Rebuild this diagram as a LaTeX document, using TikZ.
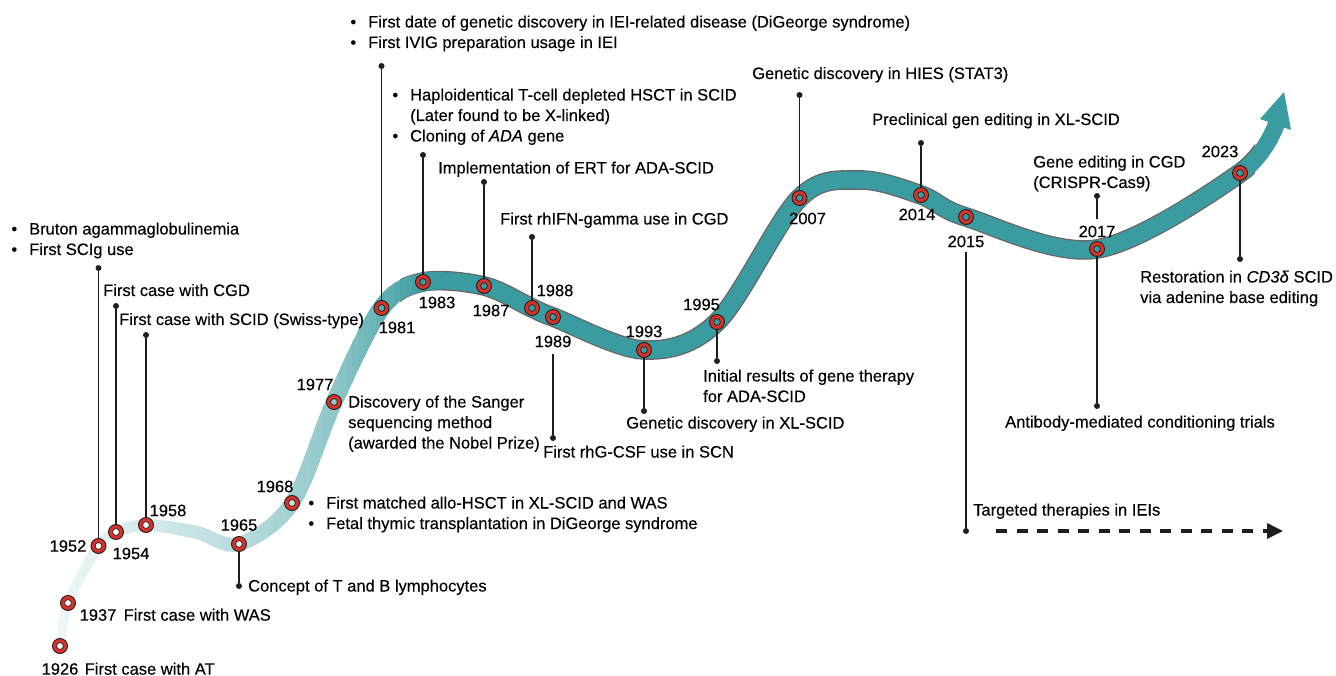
\documentclass[tikz,border=0pt]{standalone}
\usepackage{fontspec}
\setmainfont{Liberation Sans}[FakeBold=0.25]
\usepackage{xcolor}
\usetikzlibrary{positioning,arrows.meta,calc}

\definecolor{trackteal}{RGB}{58,156,160}
\definecolor{ringred}{RGB}{215,50,42}
\definecolor{inkblack}{RGB}{30,30,30}

\newcommand{\itemlist}[1]{\begin{tabular}[t]{@{}l@{\hspace{12pt}}l@{}}#1\end{tabular}}
\newcommand{\textlines}[1]{\begin{tabular}[t]{@{}l@{}}#1\end{tabular}}
\newcommand{\trackpath}{plot[smooth, tension=0.55] coordinates {(60,650) (68,603) (98.5,546) (116,532) (146,525) (195,532) (239,544) (292,503) (334,402) (381.5,308) (423,282) (484,286) (532,308) (553,317) (644,350) (717,322) (799.5,198) (860,180) (921,195) (966,217) (1097,249) (1240,173) (1277,122)}}

\begin{document}
\begin{tikzpicture}[
        x=1pt, y=-1pt,
        marker/.style={circle, draw=inkblack, line width=0.9pt, fill=ringred,
                       minimum size=15pt, inner sep=0pt,
                       path picture={\draw[inkblack, line width=0.7pt, fill=#1]
                           (path picture bounding box.center) circle (3.4pt);}},
        marker/.default=trackteal,
        year/.style={inner sep=0pt, font=\fontsize{16.5}{20.5}\selectfont},
        desc/.style={inner sep=0pt, font=\fontsize{16.5}{20.5}\selectfont},
        leaddot/.style={circle, fill=inkblack, inner sep=0pt, minimum size=6pt},
        leader/.style={line width=1.5pt, draw=inkblack}
    ]
    \useasboundingbox (0,0) rectangle (1336,676);
    \fill[white] (0,0) rectangle (1336,676);

    % ribbon: dark edge, pale-to-teal bands, teal part and its head
    \begin{scope}
        \clip (400,0) rectangle (1255,676);
        \draw[line width=19.6pt, black!60] \trackpath;
    \end{scope}
    \foreach \bx in {40,46,...,430} {
        \pgfmathsetmacro{\mixp}{\bx<240 ? 6+30*(\bx-40)/200 : (\bx<334 ? 36+22*(\bx-240)/94 : min(100,58+42*(\bx-334)/90))}
        \pgfmathsetmacro{\trackw}{9+9*min(1,(\bx-40)/340)}
        \begin{scope}
            \clip (\bx,0) rectangle (\bx+7,676);
            \draw[line width=\trackw pt, trackteal!\mixp!white] \trackpath;
        \end{scope}
    }
    \begin{scope}
        \clip (434,0) rectangle (1336,676);
        \draw[line width=17pt, trackteal] \trackpath;
    \end{scope}
    \coordinate (headtip) at (1284,92);
    \coordinate (headl) at (1260,119);
    \coordinate (headr) at (1291,130);
    \fill[trackteal] (headtip) -- (headl) -- (headr) -- cycle;

    % markers
    \node[marker=white] (m1926) at (60,646) {};
    \node[marker=white] (m1937) at (68,603) {};
    \node[marker=white] (m1952) at (98.5,546) {};
    \node[marker=white] (m1954) at (116,532) {};
    \node[marker=white] (m1958) at (146,525) {};
    \node[marker=trackteal!15!white] (m1965) at (239,544) {};
    \node[marker=trackteal!30!white] (m1968) at (292,503) {};
    \node[marker=trackteal!55!white] (m1977) at (334,402) {};
    \node[marker=trackteal!85!white] (m1981) at (381.5,308) {};
    \node[marker] (m1983) at (423,282) {};
    \node[marker] (m1987) at (484,286) {};
    \node[marker] (m1988) at (532,308) {};
    \node[marker] (m1989) at (553,317) {};
    \node[marker] (m1993) at (644,350) {};
    \node[marker] (m1995) at (717,322) {};
    \node[marker] (m2007) at (799.5,198) {};
    \node[marker] (m2014) at (921,195) {};
    \node[marker] (m2015) at (966,217) {};
    \node[marker] (m2017) at (1097,249) {};
    \node[marker] (m2023) at (1240,173) {};

    % years
    \node[year, below=9pt of m1926] (y1926) {1926};
    \node[year, right=3.5pt of m1937, yshift=-12pt] (y1937) {1937};
    \node[year, left=4pt of m1952] (y1952) {1952};
    \node[year, below=7.5pt of m1954, xshift=15pt] (y1954) {1954};
    \node[year, above=0.5pt of m1958, xshift=22pt] (y1958) {1958};
    \node[year, above=5pt of m1965] (y1965) {1965};
    \node[year, above=2.5pt of m1968, xshift=-17pt] (y1968) {1968};
    \node[year, above=3.5pt of m1977, xshift=-19pt] (y1977) {1977};
    \node[year, below=5.5pt of m1981, xshift=15.5pt] (y1981) {1981};
    \node[year, below=6.5pt of m1983, xshift=14pt] (y1983) {1983};
    \node[year, below=10.5pt of m1987, xshift=7pt] (y1987) {1987};
    \node[year, above=3.5pt of m1988, xshift=23pt] (y1988) {1988};
    \node[year, below=10.5pt of m1989] (y1989) {1989};
    \node[year, above=4.5pt of m1993] (y1993) {1993};
    \node[year, above=3.5pt of m1995, xshift=-15.5pt] (y1995) {1995};
    \node[year, below=6.5pt of m2007, xshift=8pt] (y2007) {2007};
    \node[year, below=5.5pt of m2014, xshift=-4pt] (y2014) {2014};
    \node[year, below=10.5pt of m2015] (y2015) {2015};
    \node[year, above=3.5pt of m2017] (y2017) {2017};
    \node[year, above=7.5pt of m2023, xshift=-20pt] (y2023) {2023};

    % leader dots
    \node[leaddot] (d1952) at (98.5,268) {};
    \node[leaddot] (d1954) at (116,306) {};
    \node[leaddot] (d1958) at (146,335) {};
    \node[leaddot] (d1965) at (239,586) {};
    \node[leaddot] (d1981) at (381.5,66) {};
    \node[leaddot] (d1983) at (423,155) {};
    \node[leaddot] (d1987) at (484,182) {};
    \node[leaddot] (d1988) at (532,237) {};
    \node[leaddot] (d1989) at (553,438) {};
    \node[leaddot] (d1993) at (644,411) {};
    \node[leaddot] (d1995) at (717,361) {};
    \node[leaddot] (d2007) at (799.5,95) {};
    \node[leaddot] (d2014) at (921,143) {};
    \node[leaddot] (d2015) at (966,531) {};
    \node[leaddot] (d2017a) at (1097,196) {};
    \node[leaddot] (d2017b) at (1097,406) {};
    \node[leaddot] (d2023) at (1240,259) {};

    % leaders
    \draw[leader] (m1952) -- (d1952);
    \draw[leader] (m1954) -- (d1954);
    \draw[leader] (m1958) -- (d1958);
    \draw[leader] (m1965) -- (d1965);
    \draw[leader] (m1981) -- (d1981);
    \draw[leader] (m1983) -- (d1983);
    \draw[leader] (m1987) -- (d1987);
    \draw[leader] (m1988) -- (d1988);
    \draw[leader, shorten <=6pt] (y1989) -- (d1989);
    \draw[leader] (m1993) -- (d1993);
    \draw[leader] (m1995) -- (d1995);
    \draw[leader] (m2007) -- (d2007);
    \draw[leader] (m2014) -- (d2014);
    \draw[leader, shorten <=4pt] (y2015) -- (d2015);
    \draw[leader, shorten <=6pt] (y2017) -- (d2017a);
    \draw[leader] (m2017) -- (d2017b);
    \draw[leader] (m2023) -- (d2023);

    % descriptions
    \node[desc, base right=6pt of y1926] (t1926) {First case with AT};
    \node[desc, base right=7pt of y1937] (t1937) {First case with WAS};
    \node[desc, anchor=base west] (t1952) at (11.2,234.5)
        {\itemlist{\textbullet & Bruton agammaglobulinemia\\ \textbullet & First SCIg use}};
    \node[desc, anchor=base west] (t1954) at (103,296) {First case with CGD};
    \node[desc, anchor=base west] (t1958) at (119,325) {First case with SCID (Swiss-type)};
    \node[desc, anchor=base west] (t1965) at (248,591.5) {Concept of T and B lymphocytes};
    \node[desc, anchor=base west] (t1968) at (308.2,508.5)
        {\itemlist{\textbullet & First matched allo-HSCT in XL-SCID and WAS\\
                   \textbullet & Fetal thymic transplantation in DiGeorge syndrome}};
    \node[desc, anchor=base west] (t1977) at (348,407.5)
        {\textlines{Discovery of the Sanger\\ sequencing method\\ (awarded the Nobel Prize)}};
    \node[desc, anchor=base west] (t1981) at (350.2,27.5)
        {\itemlist{\textbullet & First date of genetic discovery in IEI-related disease (DiGeorge syndrome)\\
                   \textbullet & First IVIG preparation usage in IEI}};
    \node[desc, anchor=base west] (t1983) at (392.2,100.5)
        {\itemlist{\textbullet & Haploidentical T-cell depleted HSCT in SCID\\
                   & (Later found to be X-linked)\\
                   \textbullet & Cloning of \textit{ADA} gene}};
    \node[desc, anchor=base west] (t1987) at (438,173.5) {Implementation of ERT for ADA-SCID};
    \node[desc, anchor=base west] (t1988) at (500,224.5) {First rhIFN-gamma use in CGD};
    \node[desc, anchor=base west] (t1989) at (543,457.5) {First rhG-CSF use in SCN};
    \node[desc, anchor=base west] (t1993) at (626,428.5) {Genetic discovery in XL-SCID};
    \node[desc, anchor=base west] (t1995) at (703,381.5)
        {\textlines{Initial results of gene therapy\\ for ADA-SCID}};
    \node[desc, anchor=base west] (t2007) at (752,79) {Genetic discovery in HIES (STAT3)};
    \node[desc, anchor=base west] (t2014) at (872,125) {Preclinical gen editing in XL-SCID};
    \node[desc, anchor=base west] (t2015) at (973,515.5) {Targeted therapies in IEIs};
    \node[desc, anchor=base west] (t2017a) at (1033,167.5)
        {\textlines{Gene editing in CGD\\ (CRISPR-Cas9)}};
    \node[desc, anchor=base west] (t2017b) at (1005,427.5) {Antibody-mediated conditioning trials};
    \node[desc, anchor=base west] (t2023) at (1140,282.5)
        {\textlines{Restoration in \textit{CD3δ} SCID\\ via adenine base editing}};

    % future arrow
    \coordinate (ta) at (996,531);
    \coordinate (tb) at (1283,531);
    \draw[line width=3.5pt, inkblack, dash pattern=on 11pt off 9.5pt,
          -{Triangle[width=15pt,length=16pt]}] (ta) -- (tb);
\end{tikzpicture}
\end{document}
